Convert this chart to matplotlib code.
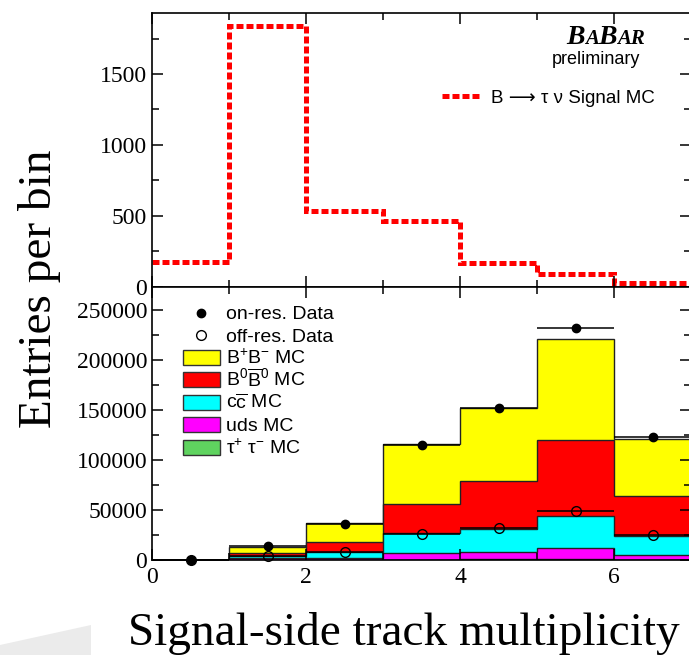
import numpy as np
import matplotlib
matplotlib.use("Agg")
import matplotlib.pyplot as plt
from matplotlib.patches import Polygon, Rectangle
from matplotlib.lines import Line2D
from matplotlib.ticker import MultipleLocator
from matplotlib.font_manager import FontProperties

plt.rcParams['font.family'] = ['Liberation Serif', 'DejaVu Serif']
plt.rcParams['mathtext.fontset'] = 'custom'
plt.rcParams['mathtext.rm'] = 'Liberation Sans'
plt.rcParams['mathtext.it'] = 'Liberation Sans:italic'

# bins of track multiplicity
edges = np.arange(0, 8)
centers = edges[:-1] + 0.5

# top panel: signal MC
signal_mc = [172, 1838, 534, 463, 165, 87, 26]

# bottom panel: background MC components (per bin, not stacked)
tautau = [10, 100, 200, 400, 500, 600, 400]
uds = [40, 1600, 2100, 6300, 7500, 11100, 4900]
ccbar = [70, 2600, 6000, 20000, 23300, 32600, 18700]
b0b0 = [80, 2700, 9700, 29000, 48000, 75700, 40300]
bpbm = [100, 6300, 19300, 60300, 72400, 101000, 56400]

on_res = [400, 13700, 35700, 115300, 151700, 231700, 123300]
off_res = [200, 4300, 8000, 26300, 32000, 49000, 24700]

mc_labels = [r'B$^{+}$B$^{-}$ MC', r'B$^{0}\overline{\mathrm{B}}^{0}$ MC',
             r'c$\overline{\mathrm{c}}$ MC', 'uds MC', r'τ$^{+}$ τ$^{-}$ MC']
mc_colors = ['#ffff00', '#ff0000', '#00ffff', '#ff00ff', '#5fd35f']

W, H = 689, 655
fig = plt.figure(figsize=(W / 100, H / 100), dpi=100)

def fx(px):
    return px / W

def fy(py):
    return 1 - py / H

# grey shape in the lower left corner
fig.patches.append(Polygon([[0, 10 / H], [91 / W, 30 / H], [91 / W, 0], [0, 0]],
                           closed=True, transform=fig.transFigure,
                           fc='#ebebeb', ec='none', zorder=0))

ax1 = fig.add_axes([fx(152), fy(286.7), (691 - 152) / W, (286.7 - 13) / H])
ax2 = fig.add_axes([fx(152), fy(560), (691 - 152) / W, (560 - 286.7) / H])

for ax in (ax1, ax2):
    ax.set_xlim(0, 7)
    ax.xaxis.set_major_locator(MultipleLocator(2))
    ax.xaxis.set_minor_locator(MultipleLocator(1))
    ax.tick_params(which='both', direction='in', top=True, right=True,
                   width=1.1, labelsize=17)
    ax.tick_params(which='major', length=8)
    ax.tick_params(which='minor', length=5)
    ax.tick_params(axis='x', pad=5)
    ax.tick_params(axis='y', pad=3.5)
    for s in ax.spines.values():
        s.set_linewidth(1.2)

# top panel
ax1.set_ylim(0, 1930)
ax1.yaxis.set_major_locator(MultipleLocator(500))
ax1.yaxis.set_minor_locator(MultipleLocator(250))
ax1.tick_params(axis='x', labelbottom=False)
ax1.stairs(signal_mc, edges, baseline=None, color='red', lw=3.6,
           linestyle=(0, (1.4, 0.6)))
sans = FontProperties(family=['Liberation Sans', 'DejaVu Sans'], size=14)
sig_font = FontProperties(family=['Liberation Sans', 'DejaVu Sans'], size=13.5)
ax1.legend([Line2D([], [], color='red', lw=3.6, linestyle=(0, (1.4, 0.6)))],
           ['B ⟶ τ ν Signal MC'], loc='center left',
           bbox_to_anchor=(fx(442), fy(98)), bbox_transform=fig.transFigure,
           frameon=False, prop=sig_font, handlelength=2.05, handletextpad=0.55,
           borderpad=0, borderaxespad=0)

# bottom panel: stacked MC
ax2.set_ylim(0, 273000)
ax2.yaxis.set_major_locator(MultipleLocator(50000))
ax2.yaxis.set_minor_locator(MultipleLocator(25000))
ax2.ticklabel_format(axis='y', style='plain')

comps = [tautau, uds, ccbar, b0b0, bpbm]
stack_colors = mc_colors[::-1]
cum = np.cumsum(comps, axis=0)
for vals, col in reversed(list(zip(cum, stack_colors))):
    ax2.stairs(vals, edges, fill=True, facecolor=col, edgecolor='#222222', lw=1.0)

ax2.errorbar(centers, on_res, xerr=0.5, fmt='o', color='black', ms=6,
             elinewidth=1.1, capsize=0, clip_on=False, zorder=5)
ax2.errorbar(centers, off_res, xerr=0.5, fmt='o', mfc='none', mec='black',
             ecolor='black', ms=7, mew=1.0, elinewidth=1.1, capsize=0,
             clip_on=False, zorder=5)

# legend of the bottom panel, one row every 22.4 px
row0, pitch = 312.7, 22.4
fig.add_artist(Line2D([fx(201)], [fy(row0)], ls='none', marker='o', color='black', ms=6))
fig.add_artist(Line2D([fx(201)], [fy(row0 + pitch)], ls='none', marker='o',
                      mfc='none', mec='black', ms=7, mew=1))
fig.text(fx(226.4), fy(row0 + 6.7), 'on-res. Data', fontproperties=sans, va='baseline')
fig.text(fx(226.4), fy(row0 + pitch + 6.7), 'off-res. Data', fontproperties=sans, va='baseline')
for i, (lab, col) in enumerate(zip(mc_labels, mc_colors)):
    yc = row0 + pitch * (i + 2)
    fig.add_artist(Rectangle((fx(182.5), fy(yc + 7.5)), 37 / W, 15 / H,
                             transform=fig.transFigure, fc=col, ec='#333333', lw=1))
    fig.text(fx(226.4), fy(yc + 6.7), lab, fontproperties=sans, va='baseline')

# axis titles
fig.text(fx(40), fy(288.5), 'Entries per bin', rotation=90,
         ha='center', va='center', fontsize=34)
fig.text(fx(404), fy(645), 'Signal-side track multiplicity',
         ha='center', va='baseline', fontsize=34)

# BaBar logo, right-aligned
fig.canvas.draw()
r = fig.canvas.get_renderer()
pieces = [('B', 20), ('A', 15), ('B', 20), ('AR', 15)]
parts = []
total = 0
for s, size in pieces:
    t = fig.text(0, fy(43.5), s, fontsize=size, fontweight='bold',
                 fontstyle='italic', va='baseline', ha='left')
    w = t.get_window_extent(r).width
    parts.append((t, w))
    total += w
x = 645 - total
for t, w in parts:
    t.set_x(fx(x))
    x += w
fig.text(fx(640), fy(64.3), 'preliminary', ha='right', va='baseline',
         fontsize=13, family='Liberation Sans')

fig.savefig('out.png', dpi=100)
